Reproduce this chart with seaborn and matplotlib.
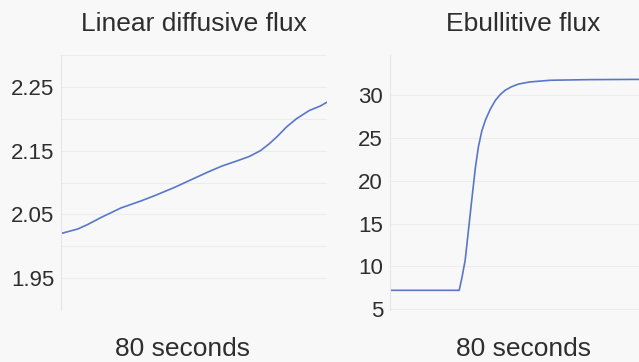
import matplotlib
matplotlib.use("Agg")
import matplotlib.pyplot as plt
import seaborn as sns
import pandas as pd

# Linear diffusive flux over an 80-second run
diff_time = [0, 5, 8, 12, 18, 24, 28, 34, 39, 44, 48.5, 53, 56.7, 60, 62.7, 65, 67.8, 70.8, 74.7, 78, 80]
diff_flux = [2.020, 2.027, 2.034, 2.045, 2.060, 2.071, 2.079, 2.092, 2.104, 2.116, 2.126, 2.134,
             2.141, 2.150, 2.161, 2.172, 2.187, 2.200, 2.213, 2.220, 2.226]

# Ebullitive flux over the same run
ebul_time = [0, 10, 20.8, 21.6, 22.6, 23.7, 24.8, 25.7, 26.6, 27.6, 28.7, 30.2, 31.7, 33.2,
             34.7, 36.6, 38.6, 42, 48.3, 60, 75, 80]
ebul_flux = [7.2, 7.2, 7.2, 8.6, 10.7, 14.6, 18.5, 21.6, 24.0, 25.8, 27.1, 28.4, 29.4, 30.1,
             30.6, 31.0, 31.3, 31.55, 31.75, 31.82, 31.85, 31.85]

titles = ["Linear diffusive flux", "Ebullitive flux"]
xlabels = ["80 seconds", "80 seconds"]
diff_ticks = [1.95, 2.05, 2.15, 2.25]
ebul_ticks = [5, 10, 15, 20, 25, 30]

sns.set_theme(style="white")
plt.rcParams["font.family"] = ["Liberation Sans", "DejaVu Sans"]

bg = "#f8f8f8"
text_color = "#2e2e2e"
line_color = "#5877c9"

fig = plt.figure(figsize=(6.39, 3.62), dpi=100, facecolor=bg)
W, H = 639, 362
ax1 = fig.add_axes([61 / W, 1 - 310 / H, 266 / W, 255 / H])
ax2 = fig.add_axes([390 / W, 1 - 310 / H, 266 / W, 255 / H])

df1 = pd.DataFrame({"t": diff_time, "flux": diff_flux})
df2 = pd.DataFrame({"t": ebul_time, "flux": ebul_flux})

sns.lineplot(data=df1, x="t", y="flux", ax=ax1, color=line_color, linewidth=1.2)
sns.lineplot(data=df2, x="t", y="flux", ax=ax2, color=line_color, linewidth=1.2)

ax1.set_ylim(1.902, 2.298)
ax1.set_yticks(diff_ticks)
ax1.set_yticklabels([f"{v:.2f}" for v in diff_ticks])
ax1.set_yticks([1.90, 2.00, 2.10, 2.20, 2.30], minor=True)

ax2.set_ylim(4.9, 34.7)
ax2.set_yticks(ebul_ticks)
ax2.set_yticklabels([str(v) for v in ebul_ticks])

for ax, title, xl in zip([ax1, ax2], titles, xlabels):
    ax.set_facecolor(bg)
    ax.set_xlim(0, 80)
    ax.set_xticks([])
    ax.set_title(title, fontsize=19, color=text_color, pad=17)
    ax.set_xlabel(xl, fontsize=19, color=text_color, labelpad=20)
    ax.set_ylabel("")
    ax.tick_params(axis="y", which="both", length=0, pad=5, labelsize=16, labelcolor=text_color)
    ax.grid(True, axis="y", which="both", color="#ececec", linewidth=0.8)
    for s in ["top", "right", "bottom"]:
        ax.spines[s].set_visible(False)
    ax.spines["left"].set_color("#e6e6e6")
    ax.spines["left"].set_linewidth(0.8)

# the left caption sits slightly left of its panel centre
ax1.xaxis.set_label_coords(0.455, -0.105, transform=ax1.transAxes)
ax1.xaxis.label.set_va("top")
ax2.xaxis.set_label_coords(0.5, -0.105, transform=ax2.transAxes)
ax2.xaxis.label.set_va("top")

fig.savefig("out.png", dpi=100, facecolor=bg)
